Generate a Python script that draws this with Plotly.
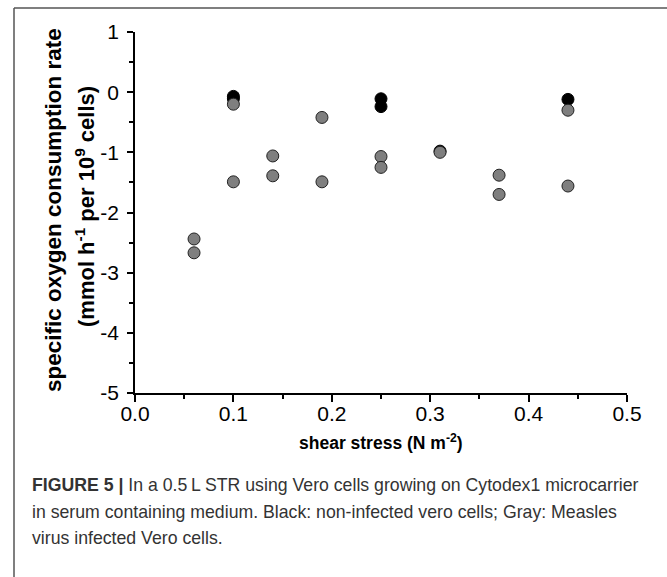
import plotly.graph_objects as go

# Data: shear stress (N m^-2) vs specific oxygen consumption rate
black_x = [0.10, 0.10, 0.25, 0.25, 0.31, 0.44]
black_y = [-0.07, -0.11, -0.11, -0.24, -0.98, -0.12]

gray_x = [0.06, 0.06, 0.10, 0.10, 0.14, 0.14, 0.19, 0.19, 0.25, 0.25, 0.31, 0.37, 0.37, 0.44, 0.44]
gray_y = [-2.44, -2.67, -0.20, -1.49, -1.06, -1.39, -0.42, -1.49, -1.07, -1.25, -1.00, -1.38, -1.70, -0.30, -1.56]

x_ticks = [0.0, 0.1, 0.2, 0.3, 0.4, 0.5]
x_ticktext = ["0.0", "0.1", "0.2", "0.3", "0.4", "0.5"]
y_ticks = [1, 0, -1, -2, -3, -4, -5]
y_ticktext = ["1", "0", "-1", "-2", "-3", "-4", "-5"]

FONT = "Liberation Sans, Arial, sans-serif"

fig = go.Figure()
fig.add_trace(go.Scatter(
    x=black_x, y=black_y, mode="markers",
    marker=dict(size=12, color="#000000", line=dict(color="#000000", width=1)),
    showlegend=False, cliponaxis=False))
fig.add_trace(go.Scatter(
    x=gray_x, y=gray_y, mode="markers",
    marker=dict(size=12, color="#7f7f7f", line=dict(color="#222222", width=1)),
    showlegend=False, cliponaxis=False))

L, R, T, B = 135, 40, 32, 184
W, H = 667, 577
pw, ph = W - L - R, H - T - B

def px(x):
    return (x - L) / pw

def py(y):
    return (H - B - y) / ph

fig.update_layout(
    width=W, height=H,
    margin=dict(l=L, r=R, t=T, b=B, pad=0),
    paper_bgcolor="white", plot_bgcolor="white",
    font=dict(family=FONT, color="#000000", size=20),
    xaxis=dict(
        range=[0, 0.5], showgrid=False, zeroline=False,
        showline=True, linecolor="#000000", linewidth=1.5,
        ticks="outside", ticklen=7, tickwidth=1.5, tickcolor="#000000",
        tickvals=x_ticks, ticktext=x_ticktext,
        tickfont=dict(size=21, family=FONT),
        ticklabelstandoff=-6,
        minor=dict(tickvals=[0.05, 0.15, 0.25, 0.35, 0.45], ticks="outside",
                   ticklen=4, tickwidth=1.5, tickcolor="#000000"),
    ),
    yaxis=dict(
        range=[-5, 1], showgrid=False, zeroline=False,
        showline=True, linecolor="#000000", linewidth=1.5,
        ticks="outside", ticklen=6, tickwidth=1.5, tickcolor="#000000",
        tickvals=y_ticks, ticktext=y_ticktext,
        tickfont=dict(size=21, family=FONT),
        ticklabelstandoff=4,
        minor=dict(tickvals=[0.5, -0.5, -1.5, -2.5, -3.5, -4.5], ticks="outside",
                   ticklen=4, tickwidth=1.5, tickcolor="#000000"),
    ),
)

# Figure frame (top and left border lines)
fig.add_shape(type="line", xref="paper", yref="paper",
              x0=px(14), x1=px(700), y0=py(8), y1=py(8),
              line=dict(color="#555555", width=1.5))
fig.add_shape(type="line", xref="paper", yref="paper",
              x0=px(14), x1=px(14), y0=py(8), y1=py(620),
              line=dict(color="#555555", width=1.5))

# Axis titles
fig.add_annotation(xref="paper", yref="paper", x=px(54), y=py(210),
                   text="<b>specific oxygen consumption rate</b>", textangle=-90,
                   showarrow=False, xanchor="center", yanchor="middle",
                   font=dict(size=22.5, family=FONT, color="#000000"))
fig.add_annotation(xref="paper", yref="paper", x=px(85), y=py(207),
                   text="<b>(mmol h<sup>-1</sup> per 10<sup>9</sup> cells)</b>", textangle=-90,
                   showarrow=False, xanchor="center", yanchor="middle",
                   font=dict(size=22, family=FONT, color="#000000"))
fig.add_annotation(xref="paper", yref="paper", x=px(381), y=py(442),
                   text="<b>shear stress (N m<sup>-2</sup>)</b>",
                   showarrow=False, xanchor="center", yanchor="middle",
                   font=dict(size=17.5, family=FONT, color="#000000"))

# Caption
caption = [
    "<b>FIGURE 5 |</b> In a 0.5\u2009L STR using Vero cells growing on Cytodex1 microcarrier",
    "in serum containing medium. Black: non-infected vero cells; Gray: Measles",
    "virus infected Vero cells.",
]
cap_y = [485, 512, 538]
for line, yy in zip(caption, cap_y):
    fig.add_annotation(xref="paper", yref="paper", x=px(30), y=py(yy),
                       text=line, showarrow=False, xanchor="left", yanchor="middle",
                       align="left", font=dict(size=17.7, family=FONT, color="#333333"))

fig.write_html("out.html")
